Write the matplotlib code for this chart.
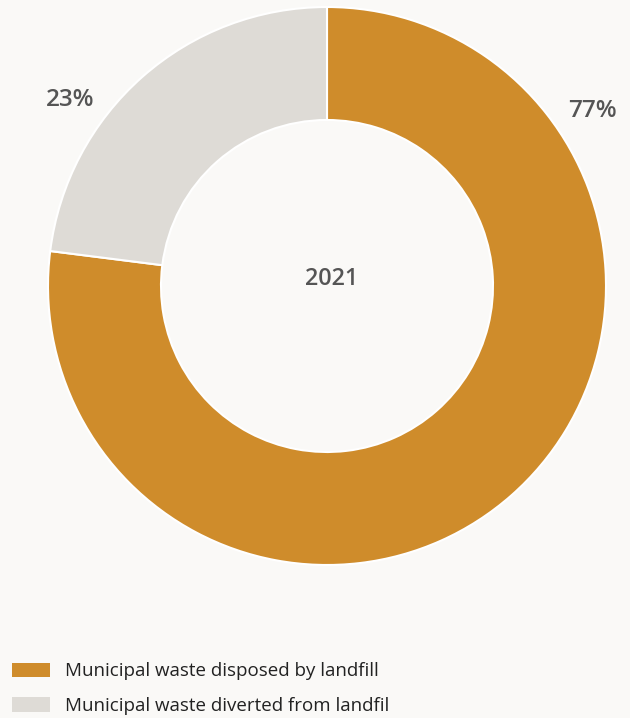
import matplotlib
matplotlib.use("Agg")
import matplotlib.pyplot as plt
from matplotlib.patches import Patch

categories = ["Municipal waste disposed by landfill", "Municipal waste diverted from landfil"]
values = [77, 23]
colors = ["#CF8C2B", "#DEDBD6"]
center_label = "2021"

plt.rcParams['font.family'] = ['Open Sans', 'DejaVu Sans']
bg = "#FAF9F7"
fig = plt.figure(figsize=(6.3, 7.18), dpi=100, facecolor=bg)
ax = fig.add_axes([48/630, 1-565/718, 558/630, 558/718])
ax.set_facecolor(bg)
wedges, _ = ax.pie(values, colors=colors, startangle=90, counterclock=False,
                   radius=1.0, wedgeprops=dict(width=1-166/279, edgecolor="white", linewidth=1.5))
ax.set_xlim(-1, 1)
ax.set_ylim(-1, 1)
ax.set_aspect("equal")
ax.axis("off")

ax.text(0.015, 0.025, center_label, ha="center", va="center", fontsize=16.8, color="#555555", fontweight="semibold")
ax.text(-0.921, 0.667, f"{values[1]}%", ha="center", va="center", fontsize=17.5, color="#555555", fontweight="semibold")
ax.text(0.953, 0.627, f"{values[0]}%", ha="center", va="center", fontsize=17.5, color="#555555", fontweight="semibold")

handles = [Patch(facecolor=c, edgecolor="none") for c in colors]
fig.legend(handles, categories, loc="lower left", bbox_to_anchor=(0.007, -0.006),
           frameon=False, fontsize=13.5, handlelength=2.03, handleheight=0.85,
           labelspacing=0.87, handletextpad=0.8, borderaxespad=0.0, labelcolor="#222222")

fig.savefig("out.png", dpi=100, facecolor=bg)
